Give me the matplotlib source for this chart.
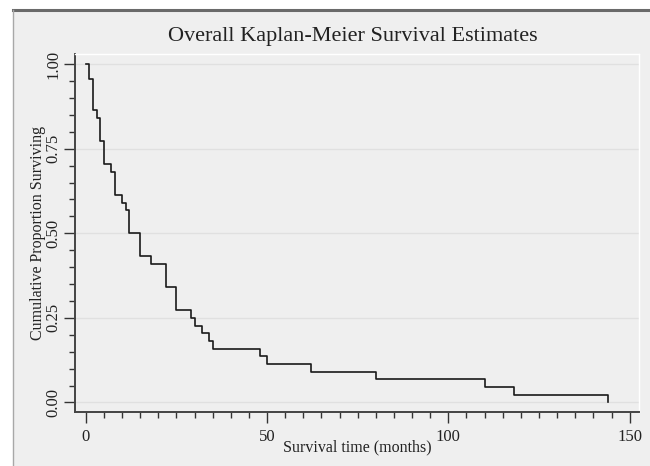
import numpy as np
import matplotlib.pyplot as plt
from matplotlib.patches import Rectangle
from matplotlib.lines import Line2D
from matplotlib.ticker import MultipleLocator

# step times (months) and Kaplan-Meier survival estimate after each step
times = [0, 1, 2, 3, 4, 5, 7, 8, 10, 11, 12, 15, 18, 22, 25, 29, 30, 32,
         34, 35, 48, 50, 62, 80, 110, 118, 144]
surv = [1.000, 0.955, 0.864, 0.841, 0.773, 0.705, 0.682, 0.614, 0.591, 0.568,
        0.500, 0.432, 0.409, 0.341, 0.273, 0.250, 0.227, 0.205, 0.182, 0.159,
        0.136, 0.114, 0.091, 0.068, 0.045, 0.023, 0.000]

xticks = [0, 50, 100, 150]
yticks = [0.00, 0.25, 0.50, 0.75, 1.00]

plt.rcParams['font.family'] = ['Liberation Serif', 'DejaVu Serif']

W, H = 650, 466
fig = plt.figure(figsize=(6.5, 4.66), dpi=100)
fig.patch.set_facecolor('white')

panel = '#efefef'
fig.patches.append(Rectangle((12.5 / W, -0.05), 1.2, 1.05 - 9.5 / H,
                             transform=fig.transFigure, facecolor=panel,
                             edgecolor='none', zorder=-2))
fig.lines.append(Line2D([12.5 / W, 1], [1 - 9.5 / H] * 2, transform=fig.transFigure,
                        color='#6a6a6a', lw=2.2, zorder=-1))
fig.lines.append(Line2D([12.5 / W] * 2, [0, 1 - 9.5 / H], transform=fig.transFigure,
                        color='#a8a8a8', lw=1.0, zorder=-1))

ax = fig.add_axes([75.3 / W, 1 - 412.3 / H, (638.7 - 75.3) / W, (412.3 - 54) / H])
ax.set_facecolor(panel)

ax.step(times, surv, where='post', color='#1a1a1a', lw=1.2, zorder=3)

ax.set_xlim(-2.9, 152.5)
ax.set_ylim(-0.029, 1.030)

ax.set_xticks(xticks)
ax.set_yticks(yticks)
ax.set_yticklabels([f'{v:.2f}' for v in yticks], rotation=90, va='center')
ax.xaxis.set_minor_locator(MultipleLocator(5))
ax.yaxis.set_minor_locator(MultipleLocator(0.05))

ax.tick_params(which='major', length=8, width=1.0, color='#333333',
               labelsize=12, labelcolor='#222222')
ax.tick_params(which='minor', length=4, width=1.0, color='#333333')
ax.tick_params(axis='x', pad=4)
ax.tick_params(axis='y', pad=2)

ax.grid(axis='y', which='major', color='#e0e0e0', lw=1.0, zorder=1)

for s in ['left', 'bottom']:
    ax.spines[s].set_color('#444444')
    ax.spines[s].set_linewidth(1.4)
for s in ['top', 'right']:
    ax.spines[s].set_color('white')
    ax.spines[s].set_linewidth(1.0)

ax.set_xlabel('Survival time (months)', fontsize=11.5, labelpad=-4, color='#222222')
ax.set_ylabel('Cumulative Proportion Surviving', fontsize=11.5, color='#222222')
ax.yaxis.set_label_coords(-0.052, 0.5)
fig.text(353 / W, 1 - 37 / H, 'Overall Kaplan-Meier Survival Estimates',
         ha='center', va='center', fontsize=16, color='#222222')

fig.savefig('out.png', dpi=100, facecolor=fig.get_facecolor())
